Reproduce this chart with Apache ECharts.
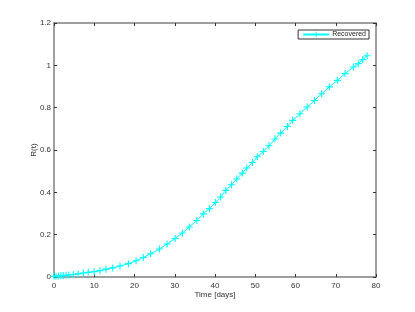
<!DOCTYPE html>
<html>
<head>
<meta charset="utf-8">
<script src="https://cdn.jsdelivr.net/npm/echarts@6/dist/echarts.min.js"></script>
<style>html,body{margin:0;padding:0;background:#fff;}#c{width:415px;height:312px;}</style>
</head>
<body>
<div id="c"></div>
<script>
var timeDays = [0, 0.5, 1.1, 1.7, 2.3, 3.0, 3.7, 4.8, 6.0, 7.3, 8.5, 10.0, 11.4, 12.9, 14.6, 16.4, 18.5, 20.4, 22.2, 24.0, 26.2, 28.1, 30.1, 31.9, 33.6, 35.5, 37.1, 38.6, 40.1, 41.4, 42.7, 44.1, 45.4, 46.8, 47.9, 49.3, 50.5, 52.0, 53.4, 54.9, 56.3, 58.0, 59.3, 61.1, 62.9, 64.7, 66.5, 68.4, 70.4, 72.3, 74.4, 75.6, 76.7, 77.8];
var recovered = [0.003, 0.004, 0.005, 0.006, 0.007, 0.008, 0.010, 0.012, 0.015, 0.019, 0.022, 0.025, 0.030, 0.037, 0.043, 0.052, 0.063, 0.077, 0.092, 0.110, 0.132, 0.156, 0.182, 0.208, 0.236, 0.267, 0.298, 0.323, 0.352, 0.378, 0.409, 0.436, 0.463, 0.491, 0.515, 0.541, 0.568, 0.593, 0.620, 0.652, 0.680, 0.711, 0.740, 0.771, 0.803, 0.834, 0.866, 0.898, 0.929, 0.961, 0.992, 1.008, 1.027, 1.045];
var seriesName = 'Recovered';
var xTitle = 'Time [days]';
var yTitle = 'R(t)';

var pts = timeDays.map(function (t, i) { return [t, recovered[i]]; });
var plus = 'path://M-0.8,-5 h1.6 v10 h-1.6 z M-5,-0.8 h10 v1.6 h-10 z';
var axisCol = '#7f7f7f';
var font = 'Liberation Sans, Arial, Helvetica, sans-serif';
var lbl = { color: '#333', fontSize: 8, fontFamily: font };

var chart = echarts.init(document.getElementById('c'), null, { renderer: 'canvas' });
chart.setOption({
  animation: false,
  backgroundColor: '#fff',
  grid: { left: 54, right: 39, top: 23, bottom: 35, containLabel: false },
  legend: {
    data: [seriesName],
    right: 46, top: 30,
    orient: 'vertical',
    borderColor: '#333', borderWidth: 1, borderRadius: 0,
    padding: [1, 3, 1, 4],
    itemWidth: 26, itemHeight: 7, itemGap: 2,
    textStyle: { fontSize: 7, color: '#222', fontFamily: font, padding: [0, 0, 0, -2] }
  },
  xAxis: [{
    type: 'value', min: 0, max: 80, interval: 10,
    name: xTitle, nameLocation: 'middle', nameGap: 14, nameMoveOverlap: false,
    nameTextStyle: { fontSize: 8, color: '#333', fontFamily: font },
    axisLine: { show: true, onZero: false, lineStyle: { color: axisCol, width: 1.5 } },
    axisTick: { show: true, inside: true, length: 3, lineStyle: { color: '#333' } },
    axisLabel: Object.assign({ margin: 5 }, lbl),
    splitLine: { show: false }
  }, {
    type: 'value', min: 0, max: 80, interval: 10, position: 'top',
    axisLine: { show: true, onZero: false, lineStyle: { color: axisCol, width: 1.5 } },
    axisTick: { show: true, inside: true, length: 3, lineStyle: { color: '#333' } },
    axisLabel: { show: false }, splitLine: { show: false }
  }],
  yAxis: [{
    type: 'value', min: 0, max: 1.2, interval: 0.2,
    name: yTitle, nameLocation: 'middle', nameGap: 16, nameRotate: 90, nameMoveOverlap: false,
    nameTextStyle: { fontSize: 8, color: '#333', fontFamily: font },
    axisLine: { show: true, onZero: false, lineStyle: { color: axisCol, width: 1.5 } },
    axisTick: { show: true, inside: true, length: 3, lineStyle: { color: '#333' } },
    axisLabel: Object.assign({ margin: 3, formatter: function (v) { return String(Math.round(v * 10) / 10); } }, lbl),
    splitLine: { show: false }
  }, {
    type: 'value', min: 0, max: 1.2, interval: 0.2, position: 'right',
    axisLine: { show: true, onZero: false, lineStyle: { color: axisCol, width: 1.5 } },
    axisTick: { show: true, inside: true, length: 3, lineStyle: { color: '#333' } },
    axisLabel: { show: false }, splitLine: { show: false }
  }],
  series: [{
    name: seriesName, type: 'line', xAxisIndex: 0, yAxisIndex: 0,
    data: pts,
    symbol: plus, symbolSize: 7, showSymbol: true,
    lineStyle: { color: '#00ffff', width: 1 },
    itemStyle: { color: '#00ffff' },
    emphasis: { disabled: true }
  }]
});
</script>
</body>
</html>
